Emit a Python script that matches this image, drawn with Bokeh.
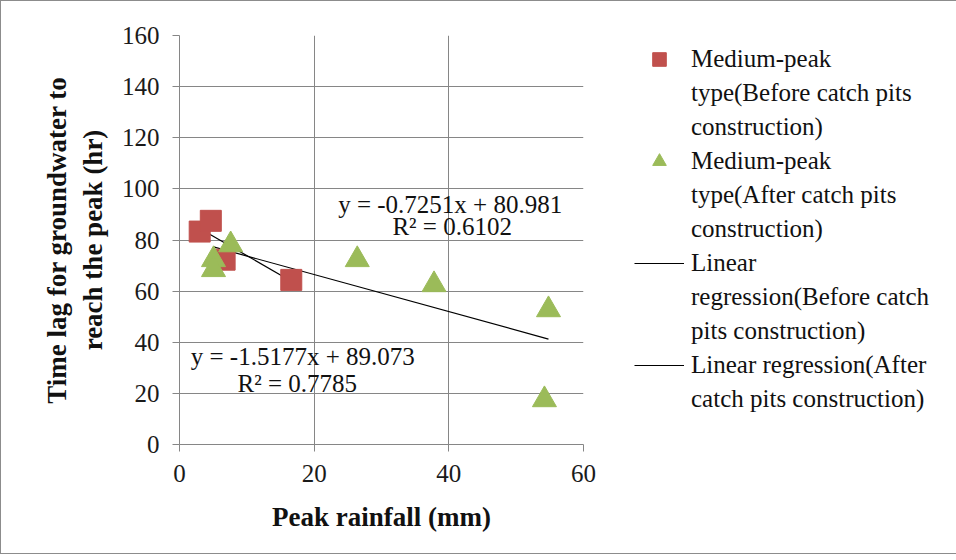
from bokeh.plotting import figure
from bokeh.models import Legend, LegendItem, Label, Range1d, FixedTicker
from bokeh.embed import file_html
from bokeh.resources import INLINE

# ---- data ----
before_x = [3.0, 4.65, 6.7, 16.6]
before_y = [83.3, 87.5, 72.3, 64.4]
after_x = [5.05, 5.05, 7.6, 26.4, 37.8, 54.8, 54.2]
after_y = [72.3, 68.4, 78.1, 72.3, 62.5, 52.7, 17.5]
before_slope, before_intercept, before_r2 = -1.5177, 89.073, 0.7785
after_slope, after_intercept, after_r2 = -0.7251, 80.981, 0.6102
x_ticks = [0, 20, 40, 60]
y_ticks = [0, 20, 40, 60, 80, 100, 120, 140, 160]
legend_lines = [
    ["Medium-peak", "type(Before catch pits", "construction)"],
    ["Medium-peak", "type(After catch pits", "construction)"],
    ["Linear", "regression(Before catch", "pits construction)"],
    ["Linear regression(After", "catch pits construction)"],
]

FONT = "Liberation Serif"
GRID = "#868686"
RED = "#C0504D"
GREEN = "#9BBB59"

p = figure(frame_width=404, frame_height=409, output_backend="svg", toolbar_location=None,
           x_range=Range1d(0, 60), y_range=Range1d(0, 160),
           min_border_left=178, min_border_right=0, min_border_top=34, min_border_bottom=109,
           styles={"border": "1px solid #8c8c8c"})
p.outline_line_color = None
p.background_fill_color = "white"

for ax in (p.xaxis[0], p.yaxis[0]):
    ax.axis_line_color = GRID
    ax.major_tick_line_color = GRID
    ax.major_tick_in = 0
    ax.major_tick_out = 7
    ax.minor_tick_line_color = None
    ax.major_label_text_font = FONT
    ax.major_label_text_font_size = "25px"
    ax.major_label_text_color = "#1a1a1a"
    ax.axis_label_text_font = FONT
    ax.axis_label_text_font_size = "27px"
    ax.axis_label_text_font_style = "bold"
    ax.axis_label_text_color = "#111111"

p.xaxis.ticker = FixedTicker(ticks=x_ticks)
p.yaxis.ticker = FixedTicker(ticks=y_ticks)
p.xaxis.axis_label = "Peak rainfall (mm)"
p.yaxis.axis_label = "Time lag for groundwater to\nreach the peak (hr)"
p.yaxis.major_label_standoff = 13
p.xaxis.major_label_standoff = 13
p.yaxis.axis_label_standoff = 11
p.xaxis.axis_label_standoff = 17

p.xgrid.grid_line_color = GRID
p.ygrid.grid_line_color = GRID
p.xgrid.ticker = FixedTicker(ticks=x_ticks)
p.ygrid.ticker = FixedTicker(ticks=y_ticks)

# regression lines over the x extent of each series
bx = [min(before_x), max(before_x)]
ax_ = [min(after_x), max(after_x)]
l_before = p.line(bx, [before_slope * v + before_intercept for v in bx], line_color="black", line_width=1.2)
l_after = p.line(ax_, [after_slope * v + after_intercept for v in ax_], line_color="black", line_width=1.2)

s_before = p.scatter(before_x, before_y, marker="square", size=21, fill_color=RED, line_color=RED)
s_after = p.scatter(after_x, after_y, marker="triangle", size=24, fill_color=GREEN, line_color=GREEN)

# invisible renderer used for continuation lines of wrapped legend labels
blank = p.scatter([], [], marker="square", size=1, fill_alpha=0, line_alpha=0)

# equation labels
def eq(m, b):
    return f"y = {m:.4f}x + {b:.3f}"

labels = [
    (40.2, 93.9, eq(after_slope, after_intercept)),
    (40.5, 85.3, f"R² = {after_r2:.4f}"),
    (18.3, 34.4, eq(before_slope, before_intercept)),
    (17.5, 23.9, f"R² = {before_r2:.4f}"),
]
for x, y, t in labels:
    p.add_layout(Label(x=x, y=y, text=t, text_font=FONT, text_font_size="25px",
                       text_align="center", text_baseline="middle", text_color="#111111"))

items = []
for rend, lines in zip([s_before, s_after, l_before, l_after], legend_lines):
    items.append(LegendItem(label=lines[0], renderers=[rend]))
    for extra in lines[1:]:
        items.append(LegendItem(label=extra, renderers=[blank]))

legend = Legend(items=items, location=(51, 28))
legend.label_text_font = FONT
legend.label_text_font_size = "25px"
legend.label_text_color = "#111111"
legend.border_line_color = None
legend.background_fill_alpha = 0.0
legend.glyph_width = 50
legend.glyph_height = 34
legend.label_standoff = 7
legend.spacing = 0
legend.padding = 0
legend.margin = 0
p.add_layout(legend, "right")

open("out.html", "w").write(file_html(p, INLINE))
